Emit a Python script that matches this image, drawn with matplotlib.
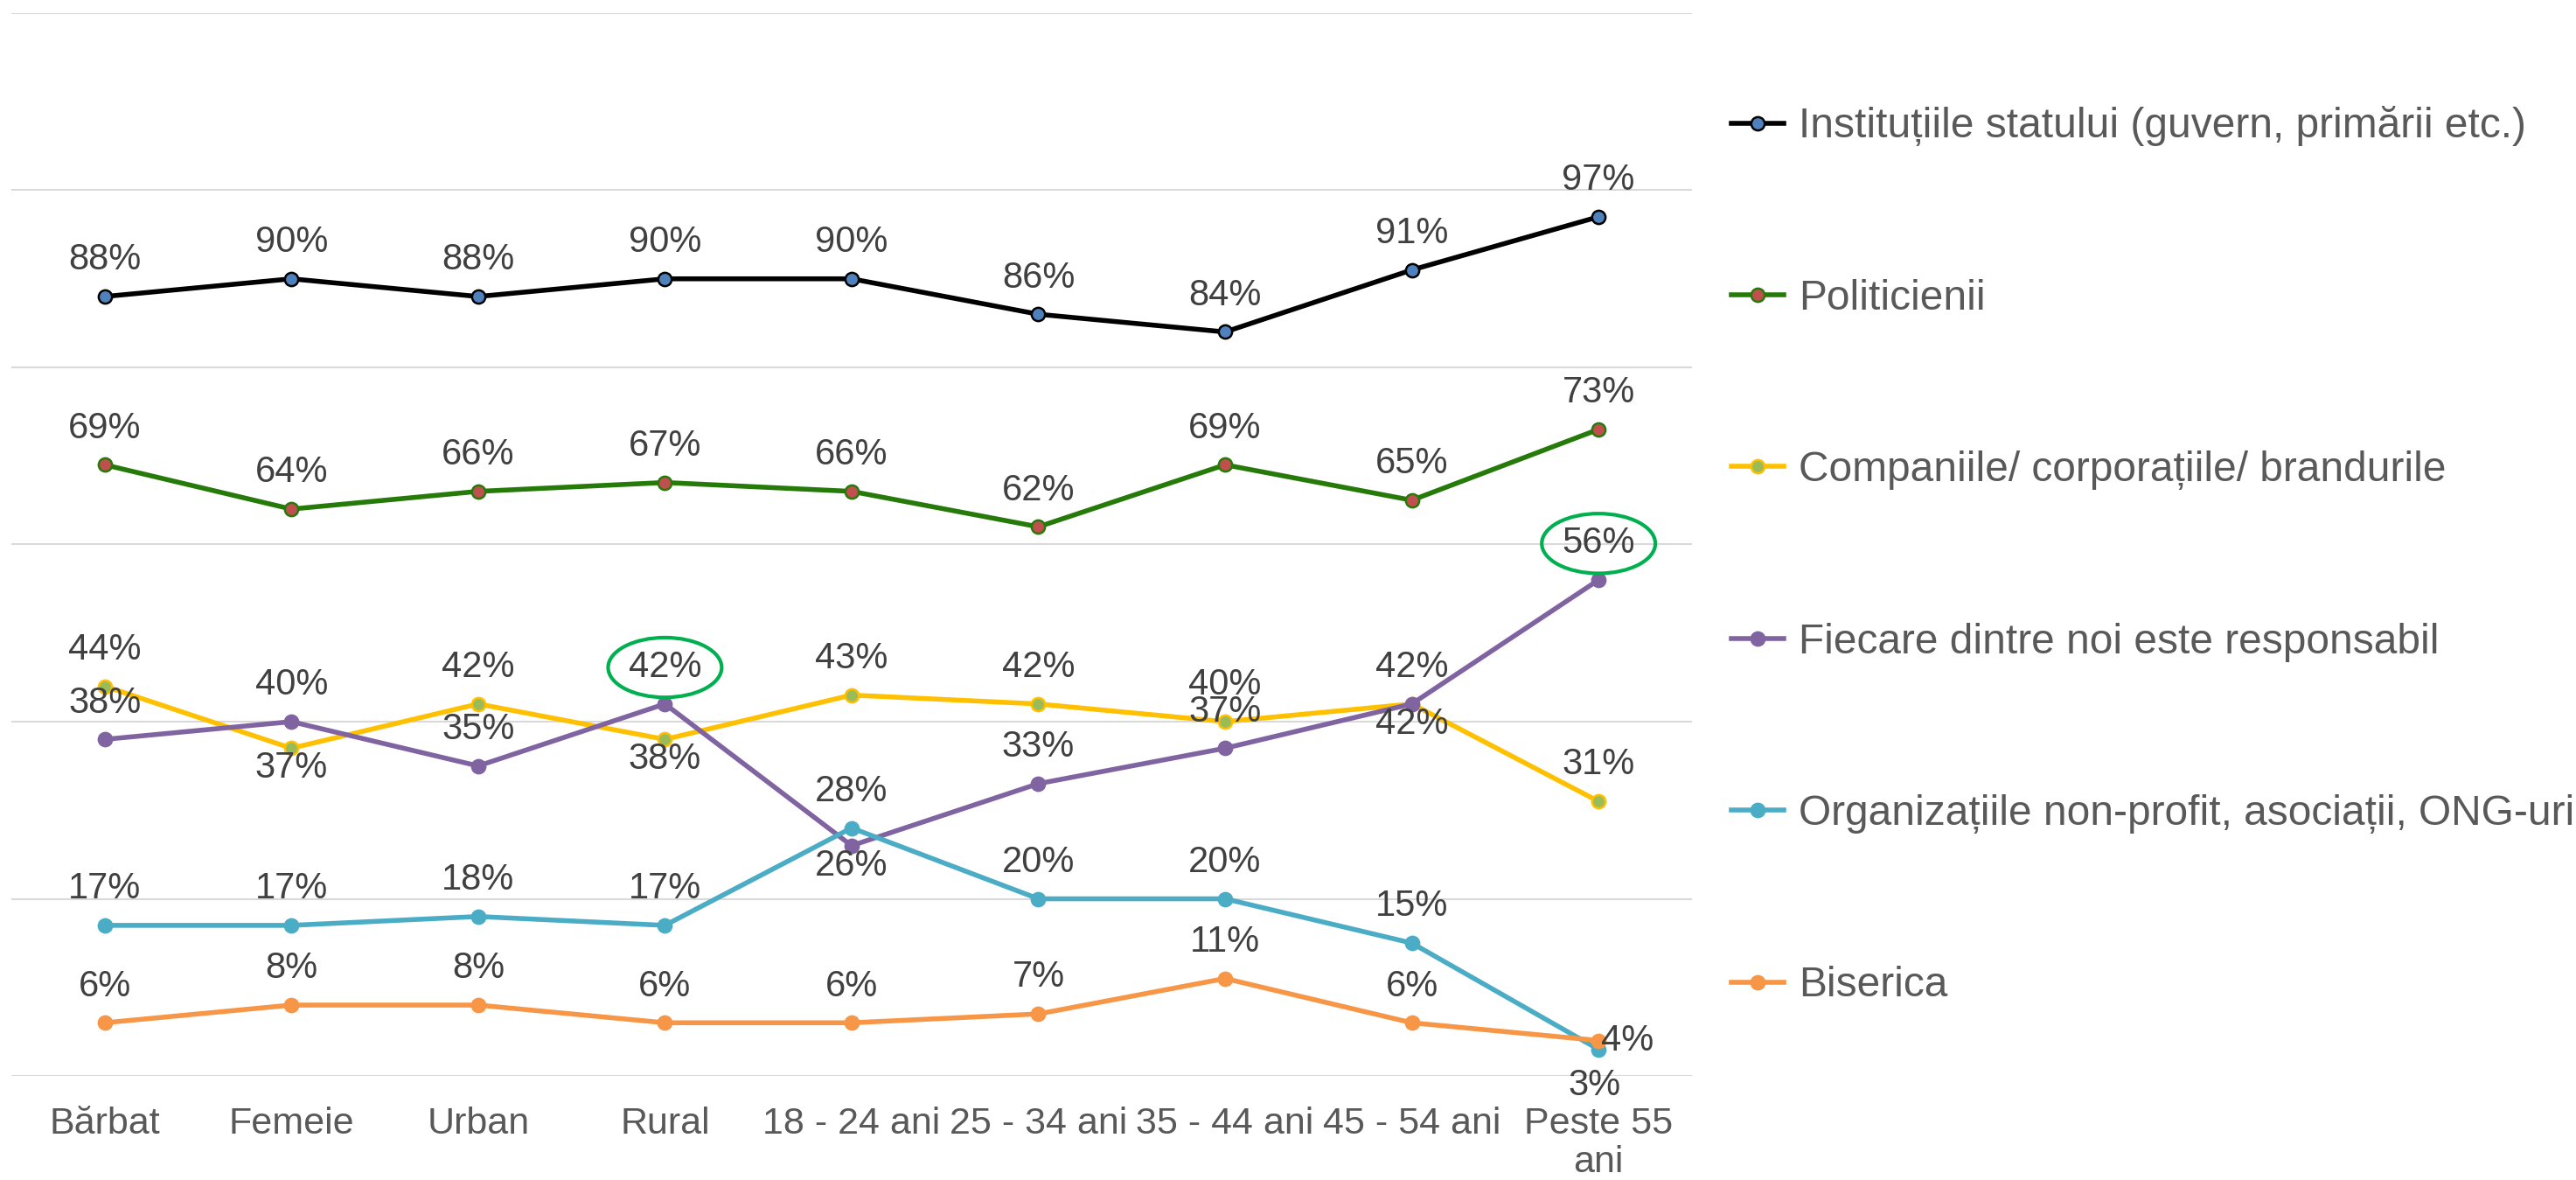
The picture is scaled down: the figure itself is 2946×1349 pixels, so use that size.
import matplotlib
matplotlib.use('Agg')
import matplotlib.pyplot as plt

plt.rcParams['font.family'] = ['Liberation Sans', 'DejaVu Sans']

categories = ['Bărbat', 'Femeie', 'Urban', 'Rural', '18 - 24 ani', '25 - 34 ani',
              '35 - 44 ani', '45 - 54 ani', 'Peste 55\nani']

series_names = ['Instituțiile statului (guvern, primării etc.)', 'Politicienii',
                'Companiile/ corporațiile/ brandurile', 'Fiecare dintre noi este responsabil',
                'Organizațiile non-profit, asociații, ONG-uri', 'Biserica']

institutii = [88, 90, 88, 90, 90, 86, 84, 91, 97]
politicieni = [69, 64, 66, 67, 66, 62, 69, 65, 73]
companii = [44, 37, 42, 38, 43, 42, 40, 42, 31]
fiecare = [38, 40, 35, 42, 26, 33, 37, 42, 56]
organizatii = [17, 17, 18, 17, 28, 20, 20, 15, 3]
biserica = [6, 8, 8, 6, 6, 7, 11, 6, 4]

# where each data label sits: a = above, b = below, r = right, bb = further below
label_pos = [
    ['a'] * 9,
    ['a'] * 9,
    ['a', 'b', 'a', 'b', 'a', 'a', 'a', 'a', 'a'],
    ['a', 'a', 'a', 'a', 'b', 'a', 'a', 'b', 'a'],
    ['a'] * 8 + ['bb'],
    ['a'] * 8 + ['r'],
]
# labels circled in green (series index, point index)
circled = [(3, 3), (3, 8)]

line_colors = ['#000000', '#267A0A', '#FFC000', '#8064A2', '#4BACC6', '#F79646']
face_colors = ['#4F81BD', '#C0504D', '#9BBB59', '#8064A2', '#4BACC6', '#F79646']

data = [institutii, politicieni, companii, fiecare, organizatii, biserica]

fig = plt.figure(figsize=(29.46, 13.49), dpi=100)
ax = fig.add_axes([0.0044, 0.0882, 0.6524, 0.9007])

x = list(range(len(categories)))
handles = []
for i, vals in enumerate(data):
    h, = ax.plot(x, vals, color=line_colors[i], lw=4, marker='o', markersize=11,
                 markerfacecolor=face_colors[i], markeredgecolor=line_colors[i],
                 markeredgewidth=1.8, zorder=3 + i)
    handles.append(h)
    for j, v in enumerate(vals):
        pos = label_pos[i][j]
        if pos == 'a':
            off, ha = (0, 30), 'center'
        elif pos == 'b':
            off, ha = (0, -16.5), 'center'
        elif pos == 'bb':
            off, ha = (-3, -30), 'center'
        else:
            off, ha = (2, 0), 'left'
        kw = {}
        if (i, j) in circled:
            kw['bbox'] = dict(boxstyle='ellipse,pad=0.1', facecolor='none',
                              edgecolor='#00B050', lw=3)
        ax.annotate(f'{v}%', (j, v), xytext=off, textcoords='offset points',
                    ha=ha, va='center', fontsize=30, color='#404040', zorder=20, **kw)

ax.set_xlim(-0.5, len(categories) - 0.5)
ax.set_ylim(0, 120)
ax.set_yticks(range(0, 121, 20))
ax.set_yticklabels([])
ax.tick_params(axis='y', length=0)
ax.set_xticks(x)
ax.set_xticklabels(categories, fontsize=31, color='#595959', linespacing=1.15)
ax.tick_params(axis='x', length=0, pad=25)
ax.grid(axis='y', color='#D9D9D9', lw=1.5)
ax.set_axisbelow(True)
for s in ax.spines.values():
    s.set_visible(False)

fig.legend(handles, series_names, loc='upper left', bbox_to_anchor=(0.672, 0.910),
           frameon=False, fontsize=34.5, labelcolor='#595959', labelspacing=3.16,
           handlelength=1.26, handletextpad=0.36, borderpad=0, borderaxespad=0)

fig.savefig('out.png', dpi=100, facecolor='w')
